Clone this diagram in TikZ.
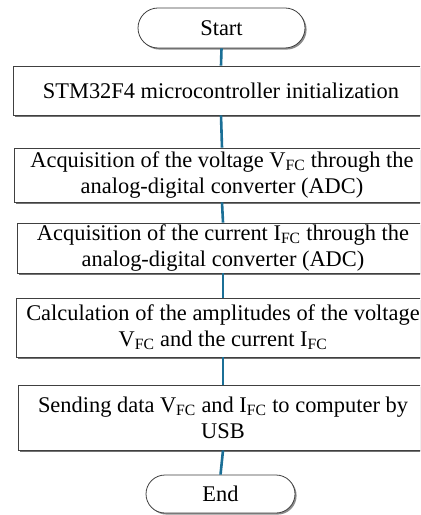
\documentclass[tikz,border=0pt]{standalone}
\usepackage{fontspec}
\setmainfont{Liberation Serif}
\usetikzlibrary{shapes.misc,shadows}
\definecolor{linkblue}{HTML}{1B6F96}

\begin{document}
\begin{tikzpicture}[x=1bp,y=-1bp,
    font=\fontsize{22.5}{26}\selectfont,
    stepbox/.style={draw=black!75,line width=0.8bp,fill=white,align=center,
      inner sep=0pt,drop shadow={shadow xshift=1.6bp,shadow yshift=-1.6bp,fill=black!55,opacity=1}},
    termbox/.style={rounded rectangle,draw=black!75,line width=0.8bp,fill=white,
      inner sep=0pt,drop shadow={shadow xshift=1.6bp,shadow yshift=-1.6bp,fill=black!45,opacity=1}},
    link/.style={draw=linkblue,line width=2.6bp}]
  \clip (0,0) rectangle (420,515);
  \fill[white] (0,0) rectangle (420,515);
  % terminals and process steps
  \node[termbox,minimum width=167bp,minimum height=40bp] (start) at (221.5,28) {Start};
  \node[stepbox,minimum width=416bp,minimum height=49bp] (init) at (221,90.5)
    {STM32F4 microcontroller initialization};
  \node[stepbox,minimum width=416bp,minimum height=54bp] (acqv) at (222,175)
    {Acquisition of the voltage V\textsubscript{FC} through the\\analog-digital converter (ADC)};
  \node[stepbox,minimum width=412bp,minimum height=50bp] (acqi) at (223,248)
    {Acquisition of the current I\textsubscript{FC} through the\\analog-digital converter (ADC)};
  \node[stepbox,minimum width=414bp,minimum height=59bp] (calc) at (223,327.5)
    {Calculation of the amplitudes of the voltage\\V\textsubscript{FC} and the current I\textsubscript{FC}};
  \node[stepbox,minimum width=410bp,minimum height=65bp] (send) at (223,417.5)
    {Sending data V\textsubscript{FC} and I\textsubscript{FC} to computer by\\USB};
  \node[termbox,minimum width=149bp,minimum height=38bp] (stop) at (220.5,494) {End};
  % connectors
  \draw[link] (start.south) -- (init.north);
  \draw[link] (init.south) -- (acqv.north);
  \draw[link] (acqv.south) -- (acqi.north);
  \draw[link] (acqi.south) -- (calc.north);
  \draw[link] (calc.south) -- (send.north);
  \draw[link] (send.south) -- (stop.north);
\end{tikzpicture}
\end{document}
